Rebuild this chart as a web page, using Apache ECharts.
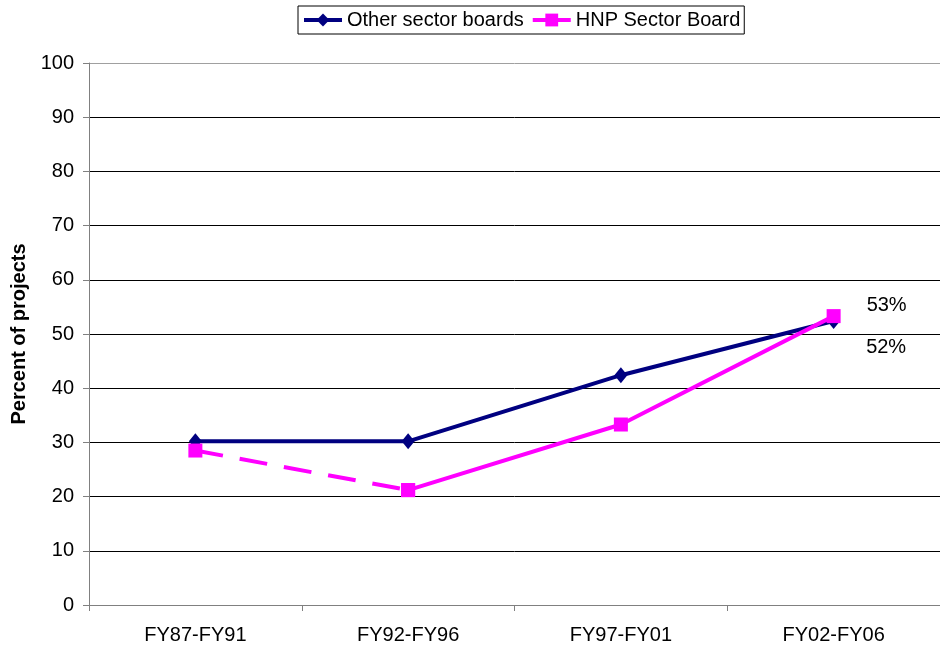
<!DOCTYPE html>
<html>
<head>
<meta charset="utf-8">
<script src="https://cdn.jsdelivr.net/npm/echarts@6/dist/echarts.min.js"></script>
<style>
  html, body { margin: 0; padding: 0; background: #fff; }
  #chart { width: 940px; height: 650px; }
</style>
</head>
<body>
<div id="chart"></div>
<script>
// Share of projects by fiscal period
const categories = ['FY87-FY91', 'FY92-FY96', 'FY97-FY01', 'FY02-FY06'];
const otherBoards = [30.2, 30.2, 42.4, 52.4];
const hnpBoard = [28.5, 21.2, 33.3, 53.3];
const yTicks = [0, 10, 20, 30, 40, 50, 60, 70, 80, 90, 100];

const FONT = 'Liberation Sans, Arial, sans-serif';
const FS = 20;
const NAVY = '#000080';
const MAGENTA = '#FF00FF';
const last = categories.length - 1;

const pctLabel = (p) => Math.round(p.value) + '%';
const endLabel = (dy) => ({
  show: true, position: 'right', offset: [21, dy], formatter: pctLabel,
  color: '#000', fontSize: FS, fontFamily: FONT
});

// Value labels only on the final period
const otherData = otherBoards.map((v, i) => (i === last ? { value: v, label: endLabel(26) } : v));

// HNP: first interval dashed, the rest solid
const hnpSolid = hnpBoard.map((v, i) => {
  if (i < 1) return null;
  if (i === last) return { value: v, label: endLabel(-11) };
  return v;
});
const hnpDashed = hnpBoard.map((v, i) => (i <= 1 ? v : null));

const gridColors = yTicks.map((t, i) => (i === yTicks.length - 1 ? '#a0a0a0' : '#000'));

const chart = echarts.init(document.getElementById('chart'), null, { renderer: 'canvas' });
chart.setOption({
  animation: false,
  backgroundColor: '#fff',
  textStyle: { fontFamily: FONT },
  legend: {
    top: 6,
    left: 298,
    padding: [4, 4, 4, 4],
    itemGap: 7,
    itemWidth: 38,
    itemHeight: 16,
    borderColor: '#000',
    borderWidth: 1,
    lineStyle: { width: 4 },
    textStyle: { fontSize: FS, color: '#000', fontFamily: FONT },
    data: ['Other sector boards', 'HNP Sector Board']
  },
  grid: { left: 89, right: 0, top: 63, bottom: 45, containLabel: false },
  xAxis: {
    type: 'category',
    data: categories,
    boundaryGap: true,
    axisLine: { lineStyle: { color: '#808080', width: 1 } },
    axisTick: { show: true, length: 6, inside: false, lineStyle: { color: '#808080' } },
    axisLabel: { color: '#000', fontSize: FS, fontFamily: FONT, margin: 20 }
  },
  yAxis: {
    type: 'value',
    min: 0,
    max: 100,
    interval: 10,
    name: 'Percent of projects',
    nameLocation: 'middle',
    nameGap: 60,
    nameTextStyle: { fontSize: FS, fontWeight: 'bold', color: '#000', fontFamily: FONT },
    axisLine: { show: true, lineStyle: { color: '#808080', width: 1 } },
    axisTick: { show: true, length: 6, inside: false, lineStyle: { color: '#808080' } },
    axisLabel: { color: '#000', fontSize: FS, fontFamily: FONT, margin: 15 },
    splitLine: { show: true, lineStyle: { color: gridColors, width: 1 } }
  },
  series: [
    {
      name: 'Other sector boards',
      type: 'line',
      data: otherData,
      symbol: 'diamond',
      symbolSize: [13, 16],
      itemStyle: { color: NAVY },
      lineStyle: { color: NAVY, width: 4 },
      z: 2
    },
    {
      name: 'HNP Sector Board',
      type: 'line',
      data: hnpSolid,
      symbol: 'rect',
      symbolSize: 14,
      itemStyle: { color: MAGENTA },
      lineStyle: { color: MAGENTA, width: 4 },
      z: 3
    },
    {
      name: 'HNP Sector Board',
      type: 'line',
      data: hnpDashed,
      symbol: 'rect',
      symbolSize: 14,
      itemStyle: { color: MAGENTA },
      lineStyle: { color: MAGENTA, width: 4, type: [28, 17] },
      z: 3
    }
  ]
});
</script>
</body>
</html>
